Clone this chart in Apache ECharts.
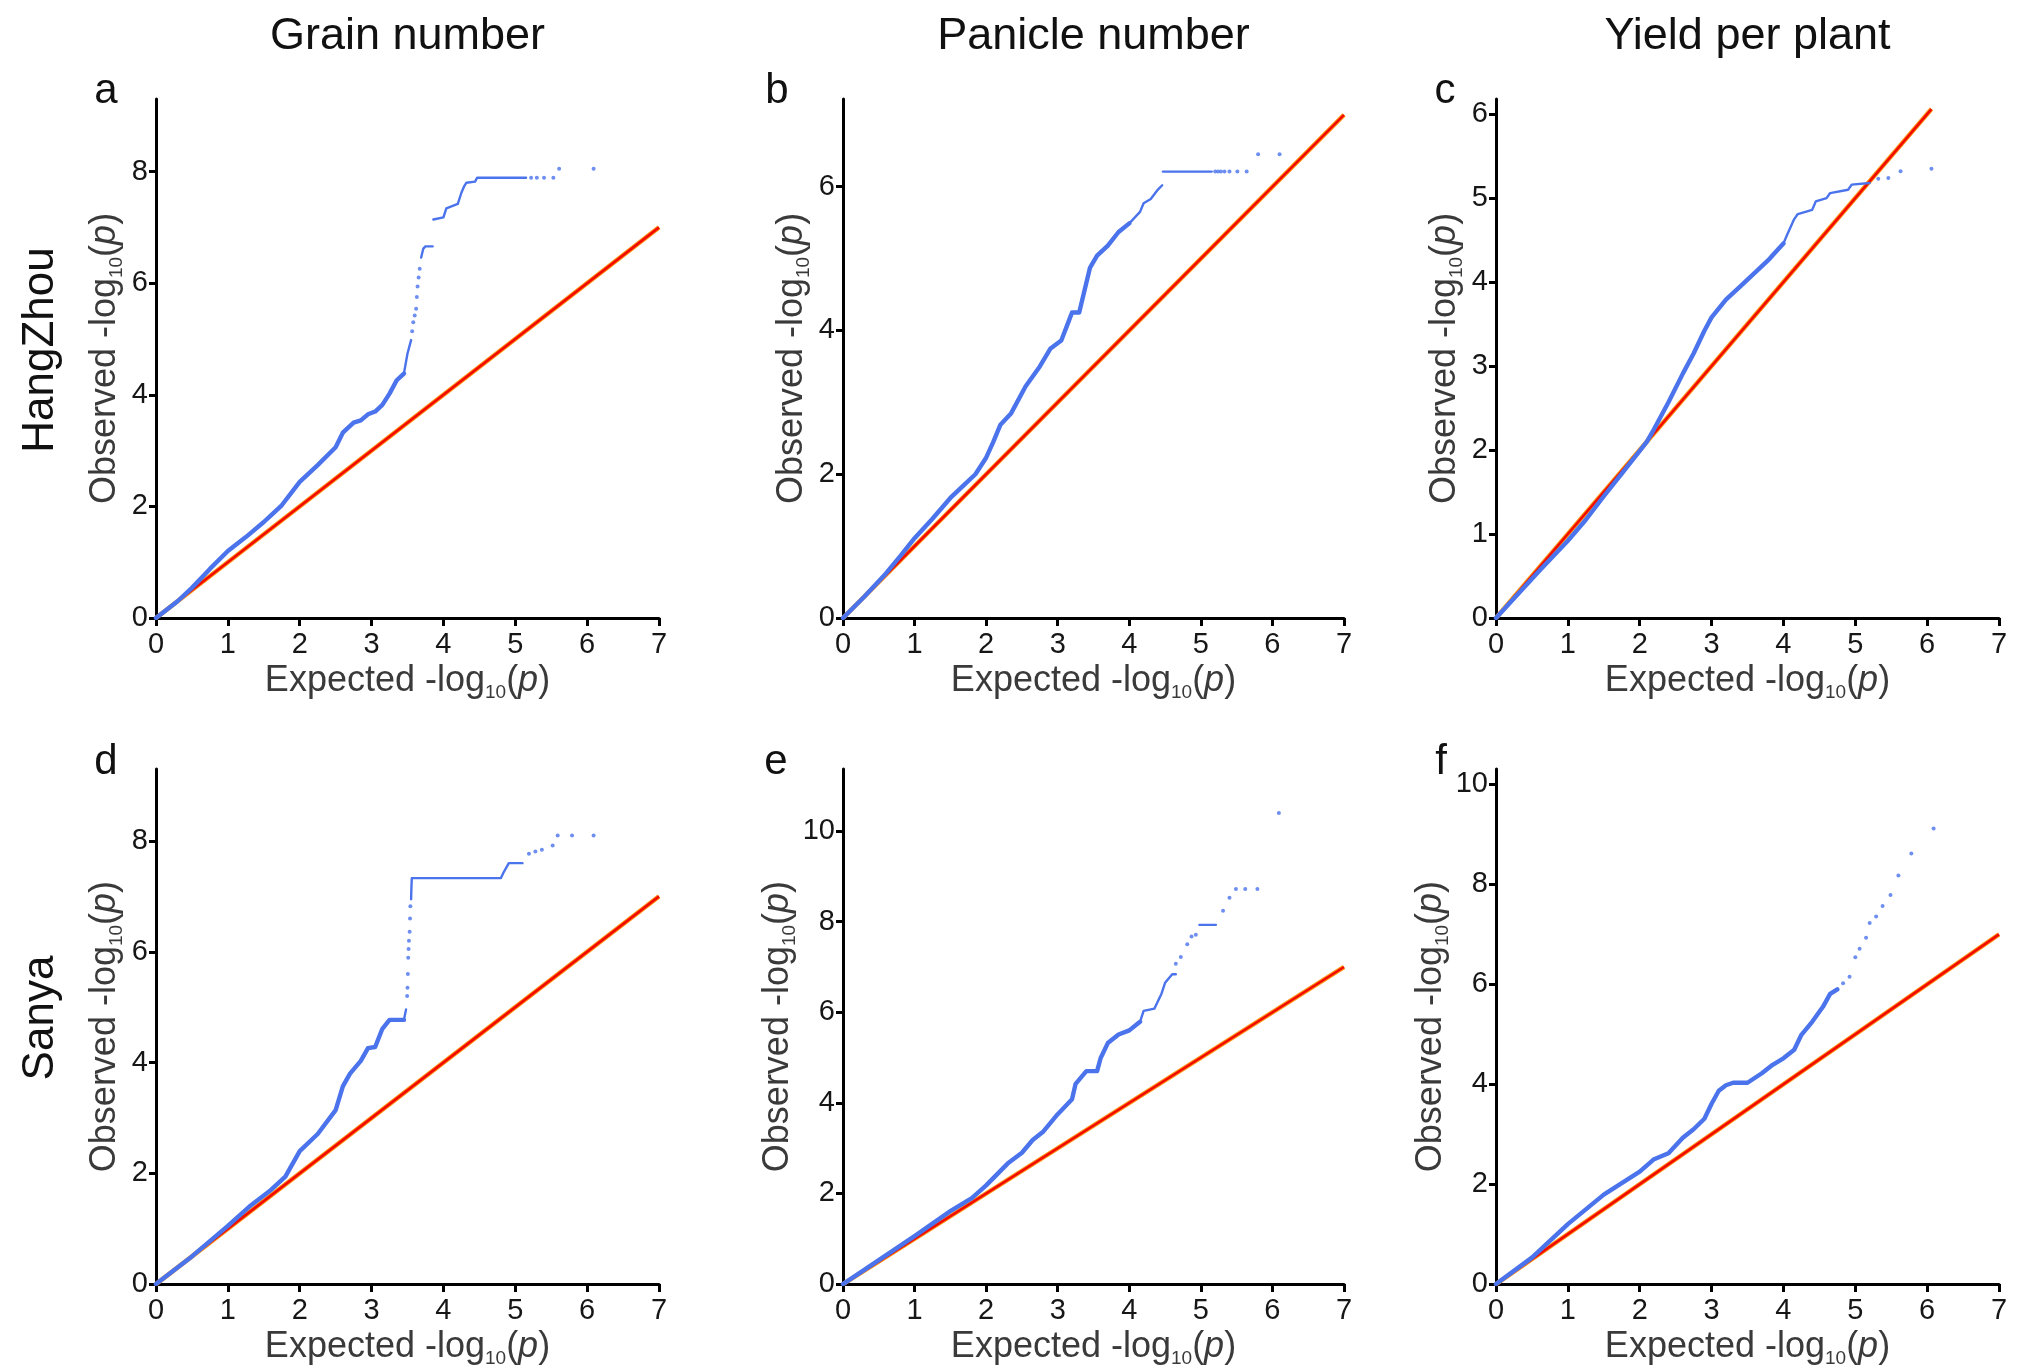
<!DOCTYPE html>
<html>
<head>
<meta charset="utf-8">
<title>QQ plots</title>
<script src="https://cdn.jsdelivr.net/npm/echarts@6/dist/echarts.min.js"></script>
<style>
  html, body { margin: 0; padding: 0; background: #ffffff; }
  #chart { width: 2021px; height: 1369px; }
</style>
</head>
<body>
<div id="chart"></div>
<script>
// ---- labels ----
const traitNames = ['Grain number', 'Panicle number', 'Yield per plant'];
const siteNames = ['HangZhou', 'Sanya'];
const panelLetters = ['a', 'b', 'c', 'd', 'e', 'f'];

// ---- axis ticks / extents (per panel a..f) ----
const xTicks = [0, 1, 2, 3, 4, 5, 6, 7];
const yTicksA = [0, 2, 4, 6, 8];
const yTicksB = [0, 2, 4, 6];
const yTicksC = [0, 1, 2, 3, 4, 5, 6];
const yTicksD = [0, 2, 4, 6, 8];
const yTicksE = [0, 2, 4, 6, 8, 10];
const yTicksF = [0, 2, 4, 6, 8, 10];
const yMaxes = [9.3, 7.22, 6.18, 9.3, 11.37, 10.31];
// end of the expected = observed reference line
const diagEnds = [7, 7, 6.06, 7, 7, 7];

// ---- observed vs expected -log10(p) ----
// dense body of each QQ curve
const aLow = [[0,0],[0.3,0.3],[0.5,0.54],[0.75,0.88],[1.0,1.2],[1.25,1.45],[1.5,1.72],[1.6,1.84],[1.75,2.02],[2.0,2.44],[2.25,2.74],[2.5,3.06],[2.6,3.32],[2.75,3.5],[2.85,3.54],[2.95,3.65],[3.05,3.7],[3.15,3.82],[3.25,4.02],[3.35,4.26],[3.45,4.38]];
const bLow = [[0,0],[0.3,0.3],[0.6,0.62],[0.8,0.86],[1.0,1.11],[1.25,1.38],[1.5,1.67],[1.7,1.86],[1.85,2.0],[2.0,2.23],[2.1,2.45],[2.2,2.69],[2.35,2.85],[2.55,3.22],[2.75,3.5],[2.9,3.75],[3.05,3.86],[3.15,4.12],[3.2,4.25],[3.3,4.25],[3.45,4.87],[3.55,5.04],[3.7,5.18],[3.85,5.37],[4.0,5.49]];
const cLow = [[0,0],[0.3,0.28],[0.6,0.56],[1.0,0.92],[1.25,1.17],[1.5,1.45],[1.75,1.72],[2.0,1.99],[2.1,2.1],[2.2,2.25],[2.4,2.57],[2.6,2.91],[2.75,3.15],[2.9,3.42],[3.0,3.58],[3.2,3.79],[3.4,3.95],[3.6,4.11],[3.8,4.27],[3.85,4.32],[4.0,4.46]];
const dLow = [[0,0],[0.5,0.5],[1.0,1.05],[1.3,1.4],[1.6,1.7],[1.8,1.94],[2.0,2.4],[2.25,2.71],[2.5,3.14],[2.6,3.57],[2.7,3.8],[2.85,4.03],[2.95,4.26],[3.05,4.28],[3.15,4.61],[3.25,4.77],[3.45,4.77]];
const eLow = [[0,0],[0.5,0.53],[1.0,1.06],[1.5,1.61],[1.8,1.9],[2.0,2.18],[2.3,2.66],[2.5,2.9],[2.65,3.18],[2.8,3.37],[3.0,3.75],[3.2,4.08],[3.25,4.42],[3.4,4.7],[3.55,4.7],[3.6,4.99],[3.7,5.32],[3.85,5.51],[4.0,5.6],[4.15,5.79]];
const fLow = [[0,0],[0.5,0.53],[1.0,1.2],[1.5,1.79],[2.0,2.25],[2.2,2.5],[2.4,2.62],[2.6,2.93],[2.75,3.1],[2.9,3.31],[3.0,3.61],[3.1,3.87],[3.2,3.98],[3.3,4.03],[3.5,4.03],[3.7,4.22],[3.85,4.39],[4.0,4.52],[4.15,4.69],[4.25,4.99],[4.4,5.25],[4.55,5.55],[4.65,5.81],[4.75,5.9]];

// thinner upper runs (each inner list is one unbroken run)
const aHigh = [[[3.45,4.38],[3.5,4.74],[3.55,4.98]],
               [[3.69,6.46],[3.72,6.62],[3.75,6.66],[3.85,6.66]],
               [[3.86,7.14],[4.0,7.18],[4.04,7.34],[4.2,7.42],[4.25,7.62],[4.29,7.74],[4.32,7.8],[4.44,7.82],[4.47,7.89],[5.15,7.89]]];
const bHigh = [[[4.0,5.49],[4.15,5.65],[4.2,5.77],[4.3,5.83],[4.4,5.96],[4.46,6.02]],
               [[4.47,6.21],[5.15,6.21]]];
const cHigh = [[[4.0,4.46],[4.05,4.56],[4.15,4.75],[4.2,4.81],[4.4,4.86],[4.45,4.96],[4.6,5.0],[4.65,5.06],[4.9,5.1],[4.95,5.16],[5.2,5.18]]];
const dHigh = [[[3.45,4.77],[3.48,4.96]],
               [[3.55,6.95],[3.555,7.18],[3.56,7.33],[4.8,7.33],[4.84,7.44],[4.91,7.6],[5.1,7.6]]];
const eHigh = [[[4.15,5.79],[4.2,6.03],[4.35,6.08],[4.45,6.41],[4.5,6.65],[4.6,6.84],[4.65,6.84]],
               [[4.98,7.93],[5.21,7.93]]];
const fHigh = [];

// isolated markers (sparse jumps and the most significant hits)
const aTail = [[3.565,5.14],[3.58,5.3],[3.6,5.42],[3.62,5.54],[3.63,5.75],[3.64,5.94],[3.655,6.1],[3.67,6.26],
               [5.22,7.89],[5.3,7.89],[5.4,7.89],[5.53,7.89],[5.61,8.05],[6.09,8.05]];
const bTail = [[5.2,6.21],[5.24,6.21],[5.28,6.21],[5.33,6.21],[5.4,6.21],[5.51,6.21],[5.64,6.21],[5.8,6.45],[6.1,6.45]];
const cTail = [[5.32,5.23],[5.46,5.24],[5.63,5.32],[6.06,5.35]];
const dTail = [[3.495,5.2],[3.5,5.35],[3.505,5.6],[3.51,5.89],[3.515,6.05],[3.52,6.2],[3.53,6.36],[3.535,6.6],[3.54,6.82],
               [5.19,7.77],[5.28,7.81],[5.37,7.84],[5.52,7.92],[5.59,8.1],[5.79,8.1],[6.09,8.1]];
const eTail = [[4.65,7.07],[4.72,7.22],[4.81,7.5],[4.87,7.67],[4.93,7.71],[5.31,8.24],[5.4,8.53],[5.49,8.72],[5.62,8.72],[5.79,8.72],[6.09,10.4]];
const fTail = [[4.83,6.02],[4.92,6.15],[5.0,6.54],[5.06,6.71],[5.15,6.93],[5.2,7.23],[5.29,7.36],[5.38,7.57],[5.49,7.79],[5.6,8.18],[5.78,8.62],[6.09,9.12]];

const panels = [
  { low: aLow, high: aHigh, tail: aTail, yTicks: yTicksA },
  { low: bLow, high: bHigh, tail: bTail, yTicks: yTicksB },
  { low: cLow, high: cHigh, tail: cTail, yTicks: yTicksC },
  { low: dLow, high: dHigh, tail: dTail, yTicks: yTicksD },
  { low: eLow, high: eHigh, tail: eTail, yTicks: yTicksE },
  { low: fLow, high: fHigh, tail: fTail, yTicks: yTicksF }
];

// ---- layout & style ----
const FONT = '"Liberation Sans", Arial, Helvetica, sans-serif';
const GRID_LEFT = [156, 843, 1496];
const GRID_WIDTH = [503, 501, 503];
const GRID_TOP = [99, 769];
const GRID_HEIGHT = 519;
const BLUE = '#4a73ec';
const RED = '#f20c00';
const ORANGE = '#ff9a1c';
const AXIS_COLOR = '#000000';
const NAME_COLOR = '#3a3a3a';

const nameRich = {
  sub: { fontFamily: FONT, fontSize: 19, color: NAME_COLOR, verticalAlign: 'bottom', lineHeight: 19 },
  it: { fontFamily: FONT, fontSize: 36, color: NAME_COLOR, fontStyle: 'italic', lineHeight: 42 }
};
const axisName = (word) => word + ' -log{sub|10}({it|p})';

const option = {
  animation: false,
  backgroundColor: '#ffffff',
  grid: [], xAxis: [], yAxis: [], series: [], graphic: []
};

panels.forEach((p, i) => {
  const col = i % 3, row = Math.floor(i / 3);
  const yStep = p.yTicks[1] - p.yTicks[0];
  option.grid.push({
    left: GRID_LEFT[col], top: GRID_TOP[row],
    width: GRID_WIDTH[col], height: GRID_HEIGHT
  });
  option.xAxis.push({
    type: 'value', gridIndex: i, min: 0, max: 7, interval: 1,
    name: axisName('Expected'), nameLocation: 'middle', nameGap: 36,
    nameTextStyle: { fontFamily: FONT, fontSize: 36, color: NAME_COLOR, lineHeight: 42, rich: nameRich },
    axisLine: { show: true, onZero: false, lineStyle: { color: AXIS_COLOR, width: 3 } },
    axisTick: { show: true, length: 8, lineStyle: { color: AXIS_COLOR, width: 3 }, customValues: xTicks },
    axisLabel: { fontFamily: FONT, fontSize: 29, color: '#161616', margin: 12, customValues: xTicks },
    splitLine: { show: false }
  });
  option.yAxis.push({
    type: 'value', gridIndex: i, min: 0, max: yMaxes[i], interval: yStep,
    name: axisName('Observed'), nameLocation: 'middle', nameGap: 30,
    nameTextStyle: { fontFamily: FONT, fontSize: 36, color: NAME_COLOR, lineHeight: 42, rich: nameRich },
    axisLine: { show: true, onZero: false, lineStyle: { color: AXIS_COLOR, width: 3 } },
    axisTick: { show: true, length: 7, lineStyle: { color: AXIS_COLOR, width: 3 }, customValues: p.yTicks },
    axisLabel: {
      fontFamily: FONT, fontSize: 29, color: '#161616', margin: 8, customValues: p.yTicks,
      formatter: (v) => (p.yTicks.indexOf(Math.round(v * 1000) / 1000) >= 0 ? String(v) : '')
    },
    splitLine: { show: false }
  });

  const diag = [[0, 0], [diagEnds[i], diagEnds[i]]];
  option.series.push({
    type: 'line', xAxisIndex: i, yAxisIndex: i, data: diag, symbol: 'none', silent: true, z: 2,
    lineStyle: { color: ORANGE, width: 4.6 }
  });
  option.series.push({
    type: 'line', xAxisIndex: i, yAxisIndex: i, data: diag, symbol: 'none', silent: true, z: 3,
    lineStyle: { color: RED, width: 2.6 }
  });
  option.series.push({
    type: 'line', xAxisIndex: i, yAxisIndex: i, data: p.low, symbol: 'none', silent: true, z: 4,
    lineStyle: { color: BLUE, width: 4.4, cap: 'round', join: 'round' }
  });
  p.high.forEach((seg) => {
    option.series.push({
      type: 'line', xAxisIndex: i, yAxisIndex: i, data: seg, symbol: 'none', silent: true, z: 4,
      lineStyle: { color: BLUE, width: 2.4, cap: 'round', join: 'round' }
    });
  });
  option.series.push({
    type: 'scatter', xAxisIndex: i, yAxisIndex: i, data: p.tail, symbol: 'circle', symbolSize: 4,
    silent: true, z: 4, itemStyle: { color: BLUE }
  });
});

// ---- column headers, row headers, panel letters ----
const textEl = (text, x, y, size, rotation) => ({
  type: 'text', x: x, y: y, rotation: rotation || 0, silent: true,
  style: {
    text: text, fontFamily: FONT, fontSize: size, fill: '#111111',
    align: 'center', verticalAlign: 'middle',
    textAlign: 'center', textVerticalAlign: 'middle'
  }
});
const colCenters = GRID_LEFT.map((l, c) => l + GRID_WIDTH[c] / 2);
traitNames.forEach((t, c) => option.graphic.push(textEl(t, colCenters[c], 37, 45)));
option.graphic.push(textEl(siteNames[0], 41, 350, 44, Math.PI / 2));
option.graphic.push(textEl(siteNames[1], 41, 1018, 44, Math.PI / 2));
const letterPos = [[106, 91], [777, 91], [1445, 91], [106, 762], [776, 762], [1441, 762]];
panelLetters.forEach((l, i) => option.graphic.push(textEl(l, letterPos[i][0], letterPos[i][1], 42)));

const chart = echarts.init(document.getElementById('chart'), null, { renderer: 'canvas' });
chart.setOption(option);
</script>
</body>
</html>
